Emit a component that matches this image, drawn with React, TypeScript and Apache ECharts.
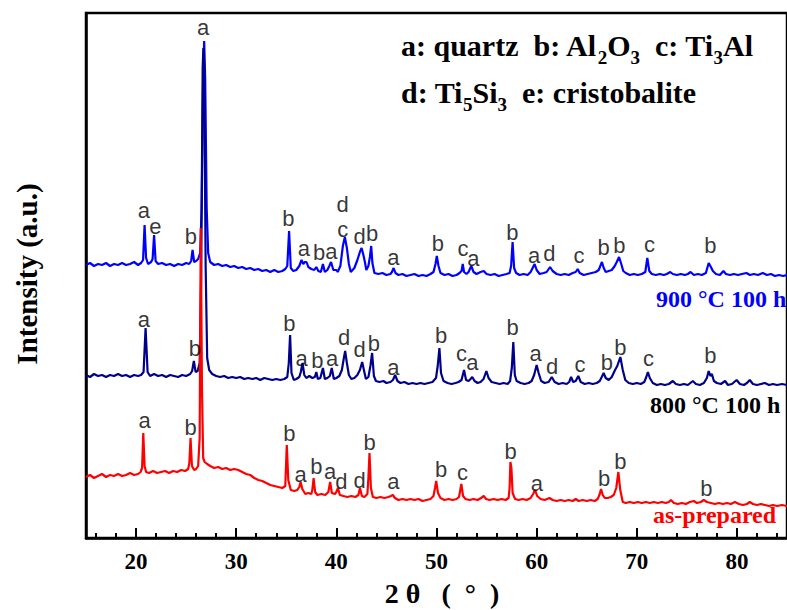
import React, { useEffect, useRef } from 'react';
import * as echarts from 'echarts';

// X axis tick values (2θ, degrees)
const xMajorTicks = [20, 30, 40, 50, 60, 70, 80];
const xMinorTicks = [16, 18, 22, 24, 26, 28, 32, 34, 36, 38, 42, 44, 46, 48, 52, 54, 56, 58, 62, 64, 66, 68, 72, 74, 76, 78, 82, 84];

// 900 °C 100 h pattern [2θ, intensity (a.u., offset)]
const pattern900: number[][] = [
  [15.0, 273], [15.4, 275], [15.8, 272], [16.2, 274], [16.6, 273], [17.0, 275], [17.4, 272], [17.8, 274], [18.2, 273], [18.6, 275],
  [19.0, 273], [19.4, 274], [19.8, 276], [20.2, 273], [20.5, 275], [20.7, 278], [20.85, 313], [21.0, 280], [21.2, 274], [21.5, 276],
  [21.65, 279], [21.8, 303], [21.95, 277], [22.2, 274], [22.6, 275], [23.0, 273], [23.4, 274], [23.8, 272], [24.2, 274], [24.6, 273],
  [25.0, 275], [25.3, 274], [25.5, 277], [25.64, 288], [25.8, 276], [26.0, 277], [26.2, 279], [26.4, 285], [26.55, 330], [26.7, 460],
  [26.8, 497], [26.9, 460], [27.05, 330], [27.2, 285], [27.4, 276], [27.8, 273], [28.2, 274], [28.6, 272], [29.0, 273], [29.4, 271],
  [29.8, 272], [30.2, 270], [30.6, 271], [31.0, 269], [31.4, 270], [31.8, 268], [32.2, 269], [32.6, 267], [33.0, 268], [33.4, 266],
  [33.8, 268], [34.2, 266], [34.6, 267], [34.9, 269], [35.1, 272], [35.28, 307], [35.45, 270], [35.7, 267], [36.0, 268], [36.3, 272],
  [36.52, 278], [36.7, 274], [36.85, 276], [37.02, 276], [37.2, 271], [37.5, 269], [37.8, 268], [38.0, 271], [38.2, 267], [38.45, 266],
  [38.66, 274], [38.85, 266], [39.1, 268], [39.3, 272], [39.47, 276], [39.7, 268], [40.0, 268], [40.13, 266], [40.4, 272], [40.65, 292],
  [40.85, 301], [41.05, 290], [41.25, 274], [41.44, 266], [41.8, 270], [42.1, 278], [42.35, 286], [42.52, 290], [42.7, 283], [42.85, 276],
  [42.99, 268], [43.2, 272], [43.35, 281], [43.48, 292], [43.6, 275], [43.8, 265], [44.2, 264], [44.6, 265], [45.0, 263], [45.4, 264],
  [45.55, 266], [45.72, 270], [45.9, 265], [46.2, 263], [46.6, 264], [47.0, 262], [47.4, 263], [47.8, 264], [48.2, 262], [48.6, 263],
  [49.0, 262], [49.4, 264], [49.7, 266], [49.9, 274], [50.03, 282], [50.2, 272], [50.4, 265], [50.8, 263], [51.2, 264], [51.6, 262],
  [52.0, 263], [52.3, 265], [52.5, 267], [52.62, 274], [52.75, 266], [53.0, 264], [53.2, 266], [53.47, 272], [53.7, 266], [54.0, 264],
  [54.4, 266], [54.72, 267], [55.0, 264], [55.4, 263], [55.8, 264], [56.2, 262], [56.6, 263], [57.0, 264], [57.3, 265], [57.45, 272],
  [57.6, 296], [57.75, 270], [57.95, 265], [58.3, 263], [58.7, 264], [59.1, 263], [59.4, 266], [59.6, 270], [59.8, 274], [60.0, 268],
  [60.3, 264], [60.7, 265], [61.0, 266], [61.34, 271], [61.6, 267], [62.0, 264], [62.4, 263], [62.8, 264], [63.2, 263], [63.6, 265],
  [63.9, 266], [64.1, 269], [64.3, 265], [64.7, 263], [65.1, 264], [65.5, 265], [65.9, 266], [66.2, 268], [66.52, 276], [66.7, 270],
  [66.9, 266], [67.2, 267], [67.5, 268], [67.8, 272], [68.0, 276], [68.23, 281], [68.45, 274], [68.65, 267], [68.9, 265], [69.3, 263],
  [69.7, 264], [70.1, 263], [70.5, 264], [70.85, 266], [71.05, 280], [71.25, 267], [71.5, 264], [71.9, 263], [72.3, 264], [72.7, 263],
  [73.0, 264], [73.34, 266], [73.6, 264], [74.0, 263], [74.4, 264], [74.8, 263], [75.1, 264], [75.37, 266], [75.7, 263], [76.1, 264],
  [76.5, 263], [76.9, 265], [77.18, 275], [77.4, 271], [77.6, 267], [77.9, 264], [78.3, 263], [78.65, 267], [78.9, 264], [79.3, 263],
  [79.7, 264], [80.1, 263], [80.5, 264], [80.95, 265], [81.3, 263], [81.7, 264], [82.1, 263], [82.58, 265], [83.0, 263], [83.4, 264],
  [83.8, 262], [84.2, 263], [84.6, 262], [85.0, 263],
];

// 800 °C 100 h pattern
const pattern800: number[][] = [
  [15.0, 163], [15.4, 161], [15.8, 164], [16.2, 162], [16.6, 163], [17.0, 161], [17.4, 163], [17.8, 162], [18.2, 164], [18.6, 162],
  [19.0, 163], [19.4, 161], [19.8, 163], [20.2, 162], [20.5, 163], [20.75, 166], [20.95, 210], [21.15, 166], [21.4, 162], [21.8, 164],
  [22.2, 162], [22.6, 163], [23.0, 161], [23.4, 163], [23.8, 162], [24.2, 161], [24.6, 163], [25.0, 162], [25.4, 164], [25.6, 167],
  [25.77, 177], [25.95, 166], [26.15, 167], [26.35, 175], [26.5, 260], [26.65, 470], [26.72, 490], [26.8, 470], [26.95, 270], [27.1, 180],
  [27.3, 168], [27.6, 164], [28.0, 162], [28.4, 161], [28.8, 162], [29.2, 160], [29.6, 161], [30.0, 160], [30.4, 161], [30.8, 159],
  [31.2, 160], [31.6, 159], [32.0, 160], [32.4, 158], [32.8, 160], [33.2, 159], [33.6, 158], [34.0, 159], [34.4, 158], [34.8, 159],
  [35.1, 161], [35.25, 175], [35.38, 203], [35.52, 165], [35.75, 158], [36.0, 159], [36.3, 161], [36.45, 166], [36.62, 175], [36.8, 163],
  [37.0, 160], [37.3, 162], [37.6, 160], [37.85, 161], [38.0, 166], [38.15, 159], [38.4, 160], [38.66, 170], [38.85, 159], [39.1, 160],
  [39.35, 162], [39.54, 170], [39.75, 159], [40.0, 160], [40.3, 162], [40.55, 168], [40.75, 180], [40.88, 187], [41.05, 175], [41.25, 163],
  [41.5, 159], [41.8, 160], [42.1, 163], [42.35, 168], [42.58, 176], [42.75, 168], [42.95, 159], [43.2, 161], [43.4, 172], [43.57, 185],
  [43.75, 162], [43.95, 157], [44.3, 156], [44.7, 157], [45.0, 155], [45.4, 156], [45.65, 158], [45.87, 163], [46.1, 157], [46.4, 155],
  [46.8, 156], [47.2, 154], [47.6, 155], [48.0, 154], [48.4, 155], [48.8, 154], [49.2, 155], [49.6, 156], [49.95, 160], [50.12, 172],
  [50.29, 190], [50.45, 165], [50.7, 157], [51.1, 155], [51.5, 154], [51.9, 155], [52.2, 156], [52.5, 158], [52.75, 168], [52.95, 158],
  [53.2, 157], [53.4, 159], [53.57, 161], [53.8, 157], [54.1, 155], [54.4, 156], [54.7, 159], [54.98, 167], [55.2, 160], [55.5, 156],
  [55.9, 155], [56.3, 154], [56.7, 155], [57.1, 154], [57.35, 157], [57.52, 170], [57.67, 196], [57.82, 163], [58.0, 157], [58.4, 155],
  [58.8, 154], [59.2, 155], [59.5, 157], [59.75, 163], [60.0, 173], [60.2, 165], [60.45, 157], [60.8, 155], [61.2, 156], [61.51, 161],
  [61.8, 156], [62.2, 154], [62.6, 155], [63.0, 154], [63.25, 156], [63.44, 161], [63.65, 156], [63.9, 157], [64.16, 162], [64.4, 156],
  [64.8, 154], [65.2, 155], [65.6, 154], [66.0, 155], [66.3, 157], [66.5, 161], [66.69, 165], [66.9, 160], [67.2, 158], [67.5, 161],
  [67.83, 168], [68.05, 172], [68.36, 181], [68.6, 168], [68.85, 158], [69.2, 155], [69.6, 154], [70.0, 155], [70.4, 154], [70.75, 156],
  [70.95, 161], [71.11, 166], [71.3, 160], [71.6, 155], [72.0, 153], [72.4, 154], [72.8, 153], [73.2, 154], [73.6, 157], [73.9, 154],
  [74.3, 153], [74.7, 154], [75.1, 153], [75.35, 155], [75.6, 157], [75.9, 154], [76.3, 153], [76.7, 155], [77.0, 160], [77.18, 167],
  [77.35, 162], [77.5, 164], [77.7, 157], [78.0, 155], [78.4, 154], [78.82, 157], [79.1, 153], [79.5, 154], [79.97, 158], [80.3, 154],
  [80.7, 153], [81.0, 155], [81.28, 158], [81.6, 154], [82.0, 153], [82.4, 154], [82.8, 155], [83.2, 153], [83.6, 154], [84.0, 153],
  [84.5, 154], [85.0, 153],
];

// as-prepared pattern
const patternAsPrepared: number[][] = [
  [15.0, 61], [15.4, 63], [15.8, 60], [16.2, 62], [16.6, 64], [17.0, 61], [17.4, 63], [17.8, 62], [18.2, 64], [18.6, 62],
  [19.0, 63], [19.4, 65], [19.8, 63], [20.2, 64], [20.45, 66], [20.6, 70], [20.72, 105], [20.85, 72], [21.0, 66], [21.3, 65],
  [21.7, 67], [22.1, 65], [22.5, 66], [22.9, 67], [23.3, 65], [23.7, 67], [24.1, 66], [24.5, 68], [24.9, 67], [25.2, 69],
  [25.32, 75], [25.44, 100], [25.58, 72], [25.8, 68], [26.0, 69], [26.2, 72], [26.35, 100], [26.46, 310], [26.58, 150], [26.7, 80],
  [26.85, 76], [27.1, 74], [27.4, 72], [27.8, 70], [28.2, 71], [28.6, 69], [29.0, 70], [29.4, 68], [29.8, 69], [30.2, 68],
  [30.6, 66], [31.0, 64], [31.4, 63], [31.8, 60], [32.2, 58], [32.6, 57], [33.0, 55], [33.4, 53], [33.8, 52], [34.2, 51],
  [34.6, 50], [34.9, 52], [35.05, 93], [35.2, 58], [35.45, 48], [35.8, 47], [36.1, 48], [36.3, 51], [36.43, 56], [36.6, 49],
  [36.9, 44], [37.2, 45], [37.5, 44], [37.6, 48], [37.73, 60], [37.88, 46], [38.1, 43], [38.5, 44], [38.9, 43], [39.2, 46],
  [39.38, 56], [39.55, 45], [39.85, 44], [40.0, 46], [40.16, 50], [40.35, 43], [40.7, 42], [41.1, 41], [41.5, 42], [41.9, 41],
  [42.2, 43], [42.36, 50], [42.55, 42], [42.8, 41], [43.1, 44], [43.2, 60], [43.31, 85], [43.45, 50], [43.65, 41], [44.0, 40],
  [44.4, 41], [44.8, 40], [45.2, 41], [45.45, 42], [45.64, 43], [45.85, 40], [46.2, 38], [46.6, 39], [47.0, 38], [47.4, 39],
  [47.8, 38], [48.2, 39], [48.6, 37], [49.0, 38], [49.4, 39], [49.7, 42], [49.85, 50], [49.97, 57], [50.15, 45], [50.4, 40],
  [50.8, 38], [51.2, 39], [51.6, 38], [52.0, 39], [52.25, 41], [52.48, 54], [52.65, 42], [52.9, 39], [53.3, 38], [53.7, 39],
  [54.1, 38], [54.45, 40], [54.72, 42], [54.95, 39], [55.3, 38], [55.7, 39], [56.1, 38], [56.5, 39], [56.9, 38], [57.2, 40],
  [57.3, 50], [57.38, 76], [57.48, 70], [57.6, 45], [57.85, 39], [58.2, 38], [58.6, 39], [59.0, 38], [59.4, 40], [59.65, 44],
  [59.84, 48], [60.05, 42], [60.4, 39], [60.8, 38], [61.28, 40], [61.6, 38], [62.0, 37], [62.4, 38], [62.8, 37], [63.2, 38],
  [63.6, 37], [63.9, 39], [64.2, 37], [64.6, 38], [65.0, 37], [65.4, 38], [65.8, 37], [66.1, 39], [66.3, 44], [66.43, 49],
  [66.6, 43], [66.8, 40], [67.1, 40], [67.4, 41], [67.7, 43], [67.95, 50], [68.16, 66], [68.35, 48], [68.6, 36], [68.9, 35],
  [69.3, 36], [69.7, 35], [70.1, 36], [70.5, 35], [70.9, 36], [71.3, 35], [71.7, 36], [72.1, 35], [72.5, 36], [72.9, 35],
  [73.2, 36], [73.41, 38], [73.7, 35], [74.1, 34], [74.5, 35], [74.9, 34], [75.3, 36], [75.7, 37], [76.0, 35], [76.4, 36],
  [76.69, 38], [77.0, 36], [77.4, 35], [77.8, 34], [78.2, 35], [78.6, 34], [79.0, 35], [79.4, 34], [79.8, 36], [80.2, 34],
  [80.6, 33], [81.0, 34], [81.28, 36], [81.6, 34], [82.0, 33], [82.4, 34], [82.8, 33], [83.2, 32], [83.6, 33], [84.0, 32],
  [84.5, 33], [85.0, 32],
];

// Peak phase labels [2θ, intensity, phase letter]
const labels900: [number, number, string][] = [
  [26.69, 511, 'a'], [20.79, 328, 'a'], [21.94, 312, 'e'], [25.48, 302, 'b'], [35.22, 320, 'b'], [36.75, 290, 'a'],
  [38.28, 286, 'b'], [39.5, 287, 'a'], [40.63, 334, 'd'], [40.63, 309, 'c'], [42.33, 302, 'd'], [43.58, 305, 'b'],
  [45.7, 281, 'a'], [50.13, 295, 'b'], [52.65, 290, 'c'], [53.67, 280, 'a'], [57.57, 306, 'b'], [59.74, 283, 'a'],
  [61.28, 285, 'd'], [64.23, 283, 'c'], [66.69, 291, 'b'], [68.26, 293, 'b'], [71.27, 294, 'c'], [77.34, 293, 'b'],
];
const labels800: [number, number, string][] = [
  [20.79, 219, 'a'], [25.87, 190, 'b'], [35.31, 215, 'b'], [36.52, 180, 'a'], [38.1, 178, 'b'], [39.57, 180, 'a'],
  [40.78, 201, 'd'], [42.33, 189, 'd'], [43.74, 195, 'b'], [45.7, 171, 'a'], [50.46, 203, 'b'], [52.49, 185, 'c'],
  [53.57, 176, 'a'], [57.6, 211, 'b'], [59.9, 185, 'a'], [61.54, 172, 'd'], [64.33, 174, 'c'], [67.01, 176, 'b'],
  [68.36, 191, 'b'], [71.18, 180, 'c'], [77.34, 183, 'b'],
];
const labelsAsPrepared: [number, number, string][] = [
  [20.86, 118, 'a'], [25.44, 111, 'b'], [35.31, 105, 'b'], [36.43, 64, 'a'], [38.0, 72, 'b'], [39.38, 67, 'a'],
  [40.5, 57, 'd'], [42.33, 58, 'd'], [43.31, 96, 'b'], [45.7, 57, 'a'], [50.46, 69, 'b'], [52.59, 66, 'c'],
  [57.41, 87, 'b'], [60.03, 55, 'a'], [66.74, 60, 'b'], [68.36, 77, 'b'], [76.95, 50, 'b'],
];

// Phase key text: [text, isSubscript]
const keyLine1: [string, boolean][] = [
  ['a: quartz\u00A0\u00A0b: Al', false], ['2', true], ['O', false], ['3', true], ['\u00A0\u00A0c: Ti', false], ['3', true], ['Al', false],
];
const keyLine2: [string, boolean][] = [
  ['d: Ti', false], ['5', true], ['Si', false], ['3', true], ['\u00A0\u00A0e: cristobalite', false],
];

const SERIF = "'Liberation Serif', 'Times New Roman', serif";
const SANS = "'Liberation Sans', Arial, sans-serif";
const NB = '\u00A0';
const MAIN_FONT = `bold 30px ${SERIF}`;
const SUB_FONT = `bold 19px ${SERIF}`;

const labelSeries = (data: [number, number, string][]) => ({
  type: 'scatter',
  silent: true,
  symbolSize: 0,
  itemStyle: { color: 'rgba(0,0,0,0)' },
  z: 5,
  data: data.map(([x, y, t]) => ({ value: [x, y], name: t })),
  label: {
    show: true,
    position: 'inside',
    formatter: '{b}',
    color: '#000',
    fontSize: 22,
    fontFamily: SANS,
  },
});

const lineSeries = (name: string, data: number[][], color: string) => ({
  type: 'line',
  name,
  data,
  showSymbol: false,
  symbol: 'none',
  silent: true,
  lineStyle: { color, width: 2.2 },
  itemStyle: { color },
});

function keyTexts(line: [string, boolean][], x0: number, yMain: number, ySub: number) {
  const canvas = document.createElement('canvas');
  const ctx = canvas.getContext('2d');
  let x = x0;
  const out: any[] = [];
  line.forEach(([t, sub]) => {
    const font = sub ? SUB_FONT : MAIN_FONT;
    let w = t.length * (sub ? 9.5 : 15);
    if (ctx) {
      ctx.font = font;
      w = ctx.measureText(t).width;
    }
    out.push({
      type: 'text',
      x,
      y: sub ? ySub : yMain,
      style: { text: t, fill: '#000', font, align: 'left', verticalAlign: 'middle' },
    });
    x += w;
  });
  return out;
}

export default function App() {
  const ref = useRef<HTMLDivElement>(null);
  useEffect(() => {
    if (!ref.current) return;
    const chart = echarts.init(ref.current, undefined, { renderer: 'svg' });
    chart.setOption({
      animation: false,
      grid: { left: 86, top: 13, right: -11, bottom: 72, show: true, borderColor: '#000', borderWidth: 2.5 },
      xAxis: [
        {
          type: 'value',
          min: 15,
          max: 85,
          axisLine: { show: true, lineStyle: { color: '#000', width: 2.5 } },
          axisTick: { show: true, inside: true, length: 10, customValues: xMajorTicks, lineStyle: { color: '#000', width: 2 } },
          axisLabel: { customValues: xMajorTicks, margin: 12, color: '#000', fontSize: 23, fontWeight: 'bold', fontFamily: SERIF },
          splitLine: { show: false },
        },
        {
          type: 'value',
          min: 15,
          max: 85,
          position: 'bottom',
          axisLine: { show: false },
          axisTick: { show: true, inside: true, length: 5, customValues: xMinorTicks, lineStyle: { color: '#000', width: 2 } },
          axisLabel: { show: false },
          splitLine: { show: false },
        },
      ],
      yAxis: {
        type: 'value',
        min: 0,
        max: 525,
        axisLine: { show: true, lineStyle: { color: '#000', width: 2.5 } },
        axisTick: { show: false },
        axisLabel: { show: false },
        splitLine: { show: false },
      },
      series: [
        lineSeries('900 °C 100 h', pattern900, '#0000ff'),
        lineSeries('800 °C 100 h', pattern800, '#00008b'),
        lineSeries('as-prepared', patternAsPrepared, '#ff0000'),
        labelSeries(labels900),
        labelSeries(labels800),
        labelSeries(labelsAsPrepared),
      ],
      graphic: [
        ...keyTexts(keyLine1, 401, 45, 57),
        ...keyTexts(keyLine2, 401, 92, 104),
        {
          type: 'text',
          x: 27,
          y: 274,
          rotation: Math.PI / 2,
          style: {
            text: 'Intensity (a.u.)',
            fill: '#000',
            font: `bold 29px ${SERIF}`,
            align: 'center',
            verticalAlign: 'middle',
          },
        },
        {
          type: 'text',
          x: 442,
          y: 593,
          style: {
            text: `2${NB}θ${NB}${NB}${NB}(${NB}${NB}°${NB}${NB})`,
            fill: '#000',
            font: `bold 28px ${SERIF}`,
            align: 'center',
            verticalAlign: 'middle',
          },
        },
        {
          type: 'text',
          x: 656,
          y: 299,
          style: { text: '900 °C 100 h', fill: '#0000ff', font: `bold 24px ${SERIF}`, align: 'left', verticalAlign: 'middle' },
        },
        {
          type: 'text',
          x: 650,
          y: 405,
          style: { text: '800 °C 100 h', fill: '#000', font: `bold 24px ${SERIF}`, align: 'left', verticalAlign: 'middle' },
        },
        {
          type: 'text',
          x: 653,
          y: 515,
          style: { text: 'as-prepared', fill: '#ff0000', font: `bold 24px ${SERIF}`, align: 'left', verticalAlign: 'middle' },
        },
      ],
    });
    return () => chart.dispose();
  }, []);
  return <div ref={ref} style={{ position: 'absolute', left: 0, top: 0, width: 787, height: 610 }} />;
}
